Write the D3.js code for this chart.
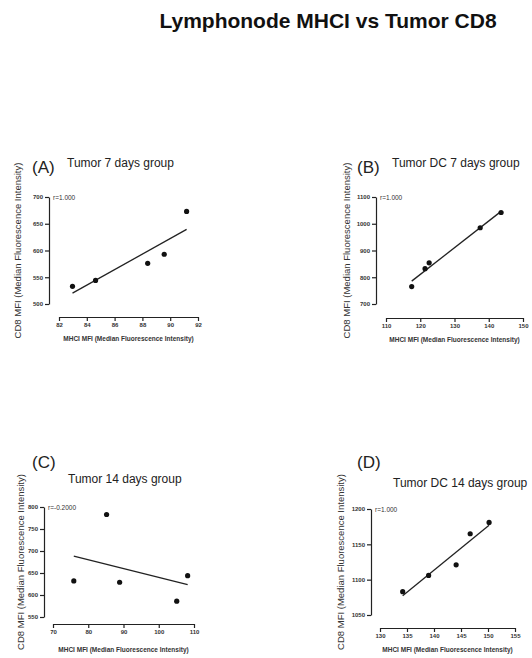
<!DOCTYPE html>
<html lang="en">
	<head>
		<meta charset="utf-8">
		<title>Lymphonode MHCI vs Tumor CD8</title>
		<script type="text/javascript" src="https://cdn.jsdelivr.net/npm/d3@7"></script>
		<style>
			body { margin: 0; background: #fff; }
			text { font-family: "Liberation Sans", Arial, sans-serif; }
		</style>
	</head>
	<body>
		<script type="text/javascript">

			// data
			var mhciA = [82.97, 84.63, 88.38, 89.57, 91.18];
			var cd8A  = [533, 544, 576, 593, 673];
			var mhciB = [117.5, 121.4, 122.6, 137.5, 143.6];
			var cd8B  = [765, 832, 854, 985, 1042];
			var mhciC = [75.9, 85.2, 88.9, 105.1, 108.2];
			var cd8C  = [632, 783, 629, 586, 644];
			var mhciD = [134.2, 139.0, 144.1, 146.7, 150.2];
			var cd8D  = [1083, 1106, 1121, 1165, 1181];

			var xTicksA = [82, 84, 86, 88, 90, 92];
			var yTicksA = [500, 550, 600, 650, 700];
			var xTicksB = [110, 120, 130, 140, 150];
			var yTicksB = [700, 800, 900, 1000, 1100];
			var xTicksC = [70, 80, 90, 100, 110];
			var yTicksC = [550, 600, 650, 700, 750, 800];
			var xTicksD = [130, 135, 140, 145, 150, 155];
			var yTicksD = [1050, 1100, 1150, 1200];

			var letters = ["(A)", "(B)", "(C)", "(D)"];
			var titles = ["Tumor 7 days group", "Tumor DC 7 days group", "Tumor 14 days group", "Tumor DC 14 days group"];
			var rLabels = ["r=1.000", "r=1.000", "r=-0.2000", "r=1.000"];

			var w = 532;
			var h = 658;

			var svg = d3.select("body")
						.append("svg")
						.attr("width", w)
						.attr("height", h);

			svg.append("text")
			   .attr("x", 328)
			   .attr("y", 28)
			   .attr("text-anchor", "middle")
			   .attr("font-size", "21px")
			   .attr("font-weight", "bold")
			   .attr("fill", "#111")
			   .text("Lymphonode MHCI vs Tumor CD8");

			// layout of each panel (pixels)
			var panels = [
				{ xs: mhciA, ys: cd8A, xt: xTicksA, yt: yTicksA, xr: [59, 198], yr: [304, 197], yAxisX: 49, xAxisY: 317,
				  letter: [32, 173], title: [67, 167], ylab: 21, xlab: 341 },
				{ xs: mhciB, ys: cd8B, xt: xTicksB, yt: yTicksB, xr: [386, 523], yr: [304, 197], yAxisX: 376, xAxisY: 318,
				  letter: [357, 173], title: [392, 167], ylab: 350, xlab: 342 },
				{ xs: mhciC, ys: cd8C, xt: xTicksC, yt: yTicksC, xr: [53, 194], yr: [617, 507], yAxisX: 44, xAxisY: 624,
				  letter: [32, 468], title: [68, 483], ylab: 24, xlab: 652 },
				{ xs: mhciD, ys: cd8D, xt: xTicksD, yt: yTicksD, xr: [380, 515], yr: [615, 509], yAxisX: 371, xAxisY: 628,
				  letter: [357, 468], title: [393, 487], ylab: 344, xlab: 652 }
			];

			panels.forEach(function(p, k) {

				var xScale = d3.scaleLinear()
							   .domain(d3.extent(p.xt))
							   .range(p.xr);

				var yScale = d3.scaleLinear()
							   .domain(d3.extent(p.yt))
							   .range(p.yr);

				var g = svg.append("g");

				var yAxis = d3.axisLeft(yScale)
							  .tickValues(p.yt)
							  .tickFormat(d3.format("d"))
							  .tickSize(4)
							  .tickSizeOuter(0)
							  .tickPadding(2);

				var xAxis = d3.axisBottom(xScale)
							  .tickValues(p.xt)
							  .tickFormat(d3.format("d"))
							  .tickSize(4)
							  .tickSizeOuter(0)
							  .tickPadding(2);

				g.append("g")
				 .attr("transform", "translate(" + p.yAxisX + ", 0)")
				 .call(yAxis);

				g.append("g")
				 .attr("transform", "translate(0, " + p.xAxisY + ")")
				 .call(xAxis);

				g.selectAll(".domain, .tick line")
				 .attr("stroke", "#222")
				 .attr("stroke-width", 1.2);

				g.selectAll(".tick text")
				 .attr("font-size", "6px")
				 .attr("font-weight", "bold")
				 .attr("fill", "#333");

				// least squares line over the data range
				var mx = d3.mean(p.xs);
				var my = d3.mean(p.ys);
				var sxy = d3.sum(p.xs, function(d, i) { return (d - mx) * (p.ys[i] - my); });
				var sxx = d3.sum(p.xs, function(d) { return (d - mx) * (d - mx); });
				var slope = sxy / sxx;
				var ends = d3.extent(p.xs);

				g.append("line")
				 .attr("x1", xScale(ends[0]))
				 .attr("y1", yScale(my + slope * (ends[0] - mx)))
				 .attr("x2", xScale(ends[1]))
				 .attr("y2", yScale(my + slope * (ends[1] - mx)))
				 .attr("stroke", "#222")
				 .attr("stroke-width", 1.3);

				g.selectAll("circle")
				 .data(p.xs)
				 .enter()
				 .append("circle")
				 .attr("cx", function(d) { return xScale(d); })
				 .attr("cy", function(d, i) { return yScale(p.ys[i]); })
				 .attr("r", 2.6)
				 .attr("fill", "#111");

				g.append("text")
				 .attr("x", p.yAxisX + 4)
				 .attr("y", p.yr[1] + 3)
				 .attr("font-size", "6.5px")
				 .attr("fill", "#333")
				 .text(rLabels[k]);

				g.append("text")
				 .attr("x", p.letter[0])
				 .attr("y", p.letter[1])
				 .attr("font-size", "17px")
				 .attr("fill", "#222")
				 .text(letters[k]);

				g.append("text")
				 .attr("x", p.title[0])
				 .attr("y", p.title[1])
				 .attr("font-size", "12px")
				 .attr("fill", "#222")
				 .text(titles[k]);

				g.append("text")
				 .attr("transform", "translate(" + p.ylab + ", " + ((p.yr[0] + p.yr[1]) / 2) + ") rotate(-90)")
				 .attr("text-anchor", "middle")
				 .attr("font-size", "9.5px")
				 .attr("fill", "#333")
				 .text("CD8 MFI (Median Fluorescence Intensity)");

				g.append("text")
				 .attr("x", (p.xr[0] + p.xr[1]) / 2)
				 .attr("y", p.xlab)
				 .attr("text-anchor", "middle")
				 .attr("font-size", "6.5px")
				 .attr("font-weight", "bold")
				 .attr("fill", "#333")
				 .text("MHCI MFI (Median Fluorescence Intensity)");
			});

		</script>
	</body>
</html>
